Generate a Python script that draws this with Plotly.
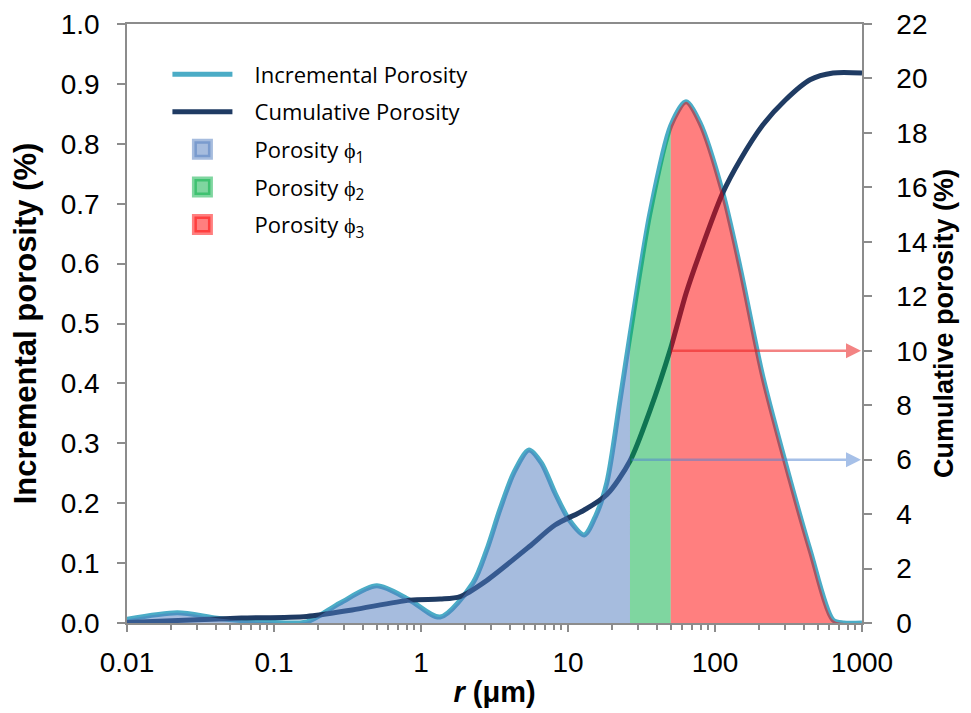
import numpy as np
import plotly.graph_objects as go

# ---------------- data ----------------
r_inc = [0.01, 0.022, 0.041, 0.08, 0.167, 0.28, 0.50, 0.84, 1.35, 2.26, 2.8,
         3.45, 4.3, 5.43, 6.6, 8.16, 10.2, 12.9, 15.5, 18.4, 22.6, 26.4, 36.1,
         50.0, 63.5, 79.1, 113.0, 148.0, 212.0, 324.0, 443.0, 635.0, 750.0,
         1000.0]
incremental = [0.006, 0.017, 0.008, 0.002, 0.002, 0.033, 0.062, 0.038, 0.010,
               0.067, 0.122, 0.19, 0.252, 0.289, 0.267, 0.217, 0.172, 0.147,
               0.18, 0.235, 0.372, 0.48, 0.684, 0.83, 0.87, 0.835, 0.718,
               0.594, 0.41, 0.239, 0.122, 0.005, 0.0, 0.0]

r_cum = [0.01, 0.03, 0.06, 0.167, 0.34, 0.84, 1.35, 1.85, 2.7, 5.43, 8.16,
         12.9, 18.4, 26.4, 36.1, 50.0, 63.5, 79.1, 113.0, 148.0, 212.0, 300.0,
         443.0, 635.0, 1000.0]
cumulative = [0.02, 0.12, 0.18, 0.24, 0.48, 0.84, 0.88, 0.97, 1.5, 2.8, 3.6,
              4.15, 4.72, 5.95, 7.8, 10.1, 12.1, 13.6, 15.8, 17.0, 18.3, 19.2,
              19.95, 20.2, 20.2]

phi1_end = 26.4   # boundary between phi1 and phi2
phi2_end = 50.0   # boundary between phi2 and phi3
phi1_cum = 6      # cumulative porosity at phi1_end
phi12_cum = 10    # cumulative porosity at phi2_end

x_tickvals = [0.01, 0.1, 1, 10, 100, 1000]
x_ticktext = ["0.01", "0.1", "1", "10", "100", "1000"]

# ---------------- styles ----------------
C_INC = "#4bacc6"
C_CUM = "#1f3b63"
C_P1 = "rgba(77,121,189,0.5)"
C_P2 = "rgba(0,173,65,0.5)"
C_P3 = "rgba(255,0,0,0.5)"
AXC = "#8c8c8c"
TICKFONT = dict(family="Liberation Sans, Arial", size=28, color="black")
SP = "\u00a0\u00a0\u00a0"

seg1 = [(r, v) for r, v in zip(r_inc, incremental) if r <= phi1_end]
seg2 = [(r, v) for r, v in zip(r_inc, incremental) if phi1_end <= r <= phi2_end]
seg3 = [(r, v) for r, v in zip(r_inc, incremental) if r >= phi2_end]

fig = go.Figure()
fig.add_trace(go.Scatter(x=r_inc, y=incremental, mode="lines",
                         line=dict(color=C_INC, width=5, shape="spline", smoothing=0.8),
                         name=SP + "Incremental Porosity", legendgroup="g0",
                         xaxis="x", yaxis="y"))
fig.add_trace(go.Scatter(x=r_cum, y=cumulative, mode="lines",
                         line=dict(color=C_CUM, width=5, shape="spline", smoothing=0.8),
                         name=SP + "Cumulative Porosity", legendgroup="g1",
                         xaxis="x", yaxis="y2"))
for k, (seg, col, nm) in enumerate([(seg1, C_P1, "Porosity ϕ<sub>1</sub>"),
                                    (seg2, C_P2, "Porosity ϕ<sub>2</sub>"),
                                    (seg3, C_P3, "Porosity ϕ<sub>3</sub>")]):
    fig.add_trace(go.Scatter(x=[p[0] for p in seg], y=[p[1] for p in seg],
                             mode="none", fill="tozeroy", fillcolor=col,
                             line=dict(shape="spline", smoothing=0.8, width=0),
                             showlegend=False, legendgroup=f"g{k+2}",
                             xaxis="x", yaxis="y3"))
    # legend swatch for the filled area
    fig.add_trace(go.Scatter(x=[None], y=[None], mode="markers",
                             marker=dict(symbol="square", size=16, color=col,
                                         line=dict(color=col, width=5)),
                             name=SP + nm, legendgroup=f"g{k+2}",
                             xaxis="x", yaxis="y3"))

axis_common = dict(showgrid=False, zeroline=False, showline=True, linecolor=AXC,
                   linewidth=1.5, ticks="outside", tickcolor=AXC, tickwidth=1.5,
                   automargin=False)

# the page adds an 8 px offset, margins compensate so the plot area sits at
# x 127..862, y 24..623 in the window
fig.update_layout(
    width=971, height=713,
    margin=dict(l=119, r=117, t=16, b=98),
    paper_bgcolor="white", plot_bgcolor="white",
    showlegend=True,
    legend=dict(x=0.055, y=0.951, xanchor="left", yanchor="top",
                font=dict(family="Open Sans", size=22, color="black"),
                bgcolor="rgba(0,0,0,0)", tracegroupgap=6, itemwidth=60,
                itemsizing="trace", traceorder="grouped"),
    xaxis=dict(type="log", range=[-2, 3], tickvals=x_tickvals, ticktext=x_ticktext,
               ticklen=7, tickfont=TICKFONT, mirror=True, ticklabelstandoff=7,
               minor=dict(ticks="outside", ticklen=5, tickcolor=AXC, tickwidth=1.5,
                          dtick="D1", showgrid=False),
               title=dict(text="<b><i>r</i></b><b> (μm)</b>",
                          font=dict(family="Liberation Sans, Arial", size=29, color="black"),
                          standoff=4),
               **axis_common),
    yaxis=dict(range=[0, 1.0], dtick=0.1, tickformat=".1f", ticklen=8,
               tickfont=TICKFONT, ticklabelstandoff=12,
               title=dict(text="<b>Incremental porosity (%)</b>",
                          font=dict(family="Liberation Sans, Arial", size=31, color="black"),
                          standoff=18),
               **axis_common),
    yaxis2=dict(range=[0, 22], dtick=2, overlaying="y", side="right", ticklen=8,
                tickfont=TICKFONT, ticklabelstandoff=19,
                title=dict(text="<b>Cumulative porosity (%)</b>",
                           font=dict(family="Liberation Sans, Arial", size=27, color="black"),
                           standoff=8),
                **axis_common),
    yaxis3=dict(range=[0, 1.0], overlaying="y", visible=False),
)

# arrows to the cumulative axis
for xb, yv, col in [(phi1_end, phi1_cum, "rgba(80,130,210,0.5)"),
                    (phi2_end, phi12_cum, "rgba(235,30,30,0.55)")]:
    fig.add_annotation(x=np.log10(1000), y=yv, xref="x", yref="y2",
                       ax=np.log10(xb), ay=yv, axref="x", ayref="y2",
                       text="", showarrow=True, arrowhead=2, arrowsize=1.2,
                       arrowwidth=2.5, arrowcolor=col, standoff=1)

fig.write_html("out.html")
